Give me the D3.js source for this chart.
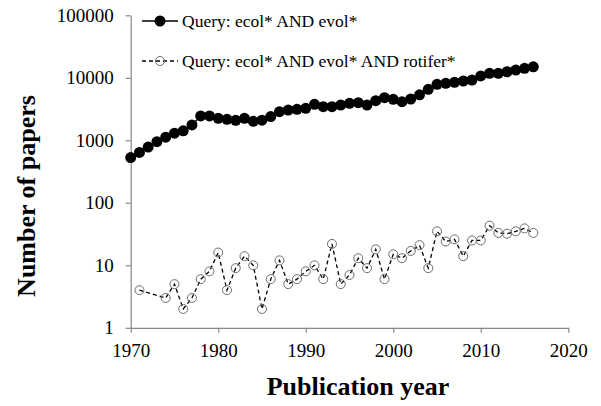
<!DOCTYPE html>
<html><head><meta charset="utf-8">
<script src="https://cdn.jsdelivr.net/npm/d3@7"></script>
<style>body{margin:0;background:#fff}svg{display:block}</style>
</head><body>
<svg id="c" width="601" height="406"></svg>
<script>
const yearsAll = [1970,1971,1972,1973,1974,1975,1976,1977,1978,1979,1980,1981,1982,1983,1984,1985,1986,1987,1988,1989,1990,1991,1992,1993,1994,1995,1996,1997,1998,1999,2000,2001,2002,2003,2004,2005,2006,2007,2008,2009,2010,2011,2012,2013,2014,2015,2016];
const ecolEvol = [530,640,780,950,1120,1300,1420,1760,2450,2450,2250,2170,2090,2250,2010,2100,2400,2870,3050,3130,3250,3770,3450,3450,3670,3910,4000,3670,4300,4810,4530,4150,4580,5350,6550,7870,8170,8480,8890,9220,10700,11800,11800,12500,13300,14200,15000];
const yearsRot = [1971,1974,1975,1976,1977,1978,1979,1980,1981,1982,1983,1984,1985,1986,1987,1988,1989,1990,1991,1992,1993,1994,1995,1996,1997,1998,1999,2000,2001,2002,2003,2004,2005,2006,2007,2008,2009,2010,2011,2012,2013,2014,2015,2016];
const rotifer = [4,3,5,2,3,6,8,16,4,9,14,10,2,6,12,5,6,8,10,6,22,5,7,13,9,18,6,15,13,17,21,9,35,24,26,14,25,25,43,33,32,35,39,33];
const xTicks = [1970,1980,1990,2000,2010,2020];
const yTicks = [1,10,100,1000,10000,100000];
const seriesNames = ["Query: ecol* AND evol*","Query: ecol* AND evol* AND rotifer*"];
const xTitle = "Publication year", yTitle = "Number of papers";

const svg = d3.select("#c");
const font = "'Liberation Serif','Times New Roman',serif";
const x = d3.scaleLinear().domain([1970,2020]).range([130.7,568.3]);
const y = d3.scaleLog().domain([1,100000]).range([327.8,15.3]);
const axisCol = "#878787";

// axes
const gx = svg.append("g").attr("transform","translate(0,327.8)")
  .call(d3.axisBottom(x).tickValues(xTicks).tickFormat(d3.format("d")).tickSize(5).tickSizeOuter(0));
const gy = svg.append("g").attr("transform","translate(130.7,0)")
  .call(d3.axisLeft(y).tickValues(yTicks).tickFormat(d3.format("d")).tickSize(5).tickSizeOuter(0));
[gx,gy].forEach(g=>{
  g.select(".domain").attr("stroke",axisCol).attr("stroke-width",1.2);
  g.selectAll(".tick line").attr("stroke",axisCol).attr("stroke-width",1.2);
  g.selectAll(".tick text").attr("fill","#000").style("font-family",font).style("font-size","19px");
});
gx.selectAll(".tick text").attr("dy","0.71em").attr("y",16);
gy.selectAll(".tick text").attr("x",-17);

// titles
svg.append("text").attr("x",358).attr("y",395).attr("text-anchor","middle")
  .style("font-family",font).style("font-size","26px").style("font-weight","bold").text(xTitle);
svg.append("text").attr("transform","translate(35,196) rotate(-90)").attr("text-anchor","middle")
  .style("font-family",font).style("font-size","26px").style("font-weight","bold").text(yTitle);

// series 1
const d1 = yearsAll.map((yr,i)=>({x:yr,v:ecolEvol[i]}));
svg.append("path").datum(d1).attr("fill","none").attr("stroke","#000").attr("stroke-width",1.3)
  .attr("d",d3.line().x(d=>x(d.x)).y(d=>y(d.v)));
svg.append("g").selectAll("circle").data(d1).join("circle")
  .attr("cx",d=>x(d.x)).attr("cy",d=>y(d.v)).attr("r",5.5).attr("fill","#000");

// series 2
const d2 = yearsRot.map((yr,i)=>({x:yr,v:rotifer[i]}));
svg.append("path").datum(d2).attr("fill","none").attr("stroke","#000").attr("stroke-width",1.3)
  .attr("stroke-dasharray","4,3")
  .attr("d",d3.line().x(d=>x(d.x)).y(d=>y(d.v)));
svg.append("g").selectAll("circle").data(d2).join("circle")
  .attr("cx",d=>x(d.x)).attr("cy",d=>y(d.v)).attr("r",4.5).attr("fill","none")
  .attr("stroke","#6e6e6e").attr("stroke-width",1);

// legend
const lg = svg.append("g");
lg.append("line").attr("x1",142).attr("x2",178).attr("y1",21).attr("y2",21).attr("stroke","#000").attr("stroke-width",1.3);
lg.append("circle").attr("cx",160).attr("cy",21).attr("r",5.5).attr("fill","#000");
lg.append("text").attr("x",182).attr("y",21).attr("dy","0.35em").style("font-family",font).style("font-size","17.5px").text(seriesNames[0]);
lg.append("line").attr("x1",142).attr("x2",178).attr("y1",61).attr("y2",61).attr("stroke","#000").attr("stroke-width",1.3).attr("stroke-dasharray","4,3");
lg.append("circle").attr("cx",160).attr("cy",61).attr("r",4.5).attr("fill","none").attr("stroke","#6e6e6e");
lg.append("text").attr("x",182).attr("y",61).attr("dy","0.35em").style("font-family",font).style("font-size","17.5px").text(seriesNames[1]);
</script>
</body></html>
